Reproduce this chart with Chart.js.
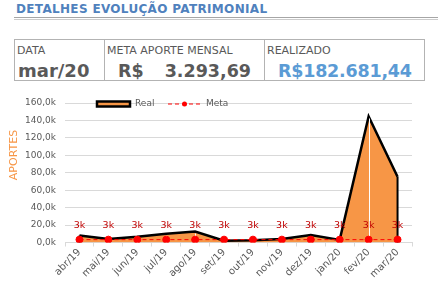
<!DOCTYPE html>
<html>
<head>
<meta charset="utf-8">
<script src="https://cdn.jsdelivr.net/npm/chart.js@4/dist/chart.umd.min.js"></script>
<style>
  body { margin: 0; background: #fff; font-family: 'DejaVu Sans', Verdana, sans-serif; }
  #page { position: relative; width: 438px; height: 284px; overflow: hidden; }
  .abs { position: absolute; white-space: nowrap; line-height: 1; }
  .hdr { font-size: 11px; color: #595959; top: 45px; }
  .val { font-size: 17.5px; font-weight: bold; color: #595959; top: 62.5px; }
  #chart { position: absolute; left: 0; top: 88px; }
</style>
</head>
<body>
<div id="page">
  <div id="title" class="abs" style="left:16px; top:2.5px; font-size:12px; font-weight:bold; color:#4f81bd;">DETALHES EVOLUÇÃO PATRIMONIAL</div>
  <div class="abs" style="left:14px; top:17px; width:424px; height:1px; background:#a6a6a6;"></div>
  <div class="abs" style="left:14px; top:19px; width:424px; height:1px; background:#cccccc;"></div>

  <div class="abs" style="left:14px; top:39px; width:409px; height:40px; border:1px solid #b3b3b3;"></div>
  <div class="abs" style="left:104px; top:39px; width:1px; height:42px; background:#b3b3b3;"></div>
  <div class="abs" style="left:264px; top:39px; width:1px; height:42px; background:#b3b3b3;"></div>

  <div class="abs hdr" style="left:17px;">DATA</div>
  <div class="abs hdr" style="left:107px;">META APORTE MENSAL</div>
  <div class="abs hdr" style="left:267px;">REALIZADO</div>

  <div class="abs val" style="left:18px; font-size:18px; top:62px;">mar/20</div>
  <div class="abs val" style="left:118px;">R$</div>
  <div class="abs val" style="right:187px;">3.293,69</div>
  <div id="realizado" class="abs val" style="left:278px; color:#5b9bd5;">R$182.681,44</div>

  <canvas id="chart" width="438" height="196"></canvas>
</div>
<script>
const months = ['abr/19', 'mai/19', 'jun/19', 'jul/19', 'ago/19', 'set/19', 'out/19', 'nov/19', 'dez/19', 'jan/20', 'fev/20', 'mar/20'];
const realValues = [8000, 4000, 6500, 10000, 12500, 2000, 2500, 4000, 8500, 3000, 144500, 75500];
const metaValues = [3293.69, 3293.69, 3293.69, 3293.69, 3293.69, 3293.69, 3293.69, 3293.69, 3293.69, 3293.69, 3293.69, 3293.69];
const yTicks = [0, 20000, 40000, 60000, 80000, 100000, 120000, 140000, 160000];

const textGray = '#595959';
const orange = '#f79646';

function fmtK(v) {
    return (v / 1000).toFixed(1).replace('.', ',') + 'k';
}

// stretch / squeeze a text element to the width seen in the picture
function fitWidth(id, target) {
    const el = document.getElementById(id);
    const w = el.getBoundingClientRect().width;
    const extra = (target - w) / Math.max(1, el.textContent.length - 1);
    el.style.letterSpacing = extra.toFixed(2) + 'px';
}
fitWidth('title', 251);
fitWidth('realizado', 134);

// drop lines, area edges, data labels, legend and axis title
const extras = {
    id: 'extras',
    afterDatasetDraw(chart, args) {
        if (args.index !== 1) return;
        const ctx = chart.ctx;
        const base = chart.scales.y.getPixelForValue(0);
        const pts = args.meta.data;
        ctx.save();
        ctx.strokeStyle = '#ffffff';
        ctx.lineWidth = 1;
        pts.forEach((p, i) => {
            if (i === 0 || i === pts.length - 1) return;
            if (base - p.y < 4) return;
            ctx.beginPath();
            ctx.moveTo(Math.round(p.x) + 0.5, p.y + 2);
            ctx.lineTo(Math.round(p.x) + 0.5, base);
            ctx.stroke();
        });
        ctx.strokeStyle = '#000';
        ctx.lineWidth = 2;
        [pts[0], pts[pts.length - 1]].forEach(p => {
            ctx.beginPath();
            ctx.moveTo(p.x, p.y);
            ctx.lineTo(p.x, base);
            ctx.stroke();
        });
        ctx.restore();
    },
    afterDraw(chart) {
        const ctx = chart.ctx;
        ctx.save();
        // data labels on meta
        ctx.font = '9.5px "DejaVu Sans"';
        ctx.fillStyle = '#c00000';
        ctx.textAlign = 'center';
        ctx.textBaseline = 'middle';
        chart.getDatasetMeta(0).data.forEach((p, i) => {
            ctx.fillText(Math.round(metaValues[i] / 1000) + 'k', p.x, p.y - 14);
        });

        // legend
        const ly = 16;
        ctx.fillStyle = orange;
        ctx.strokeStyle = '#000';
        ctx.lineWidth = 2.5;
        ctx.beginPath();
        ctx.rect(97, ly - 2.5, 33, 5);
        ctx.fill();
        ctx.stroke();
        ctx.font = '9px "DejaVu Sans"';
        ctx.fillStyle = textGray;
        ctx.textAlign = 'left';
        ctx.fillText('Real', 135, ly);
        ctx.strokeStyle = '#ff0000';
        ctx.lineWidth = 1;
        ctx.setLineDash([4, 3]);
        ctx.beginPath();
        ctx.moveTo(168, ly);
        ctx.lineTo(201, ly);
        ctx.stroke();
        ctx.setLineDash([]);
        ctx.fillStyle = '#ff0000';
        ctx.beginPath();
        ctx.arc(184.5, ly, 2.5, 0, Math.PI * 2);
        ctx.fill();
        ctx.fillStyle = textGray;
        ctx.fillText('Meta', 206, ly);

        // y axis title
        ctx.translate(14.5, 67);
        ctx.rotate(-Math.PI / 2);
        ctx.font = '11px "DejaVu Sans"';
        ctx.fillStyle = orange;
        ctx.textAlign = 'center';
        ctx.fillText('APORTES', 0, 0);
        ctx.restore();
    }
};

new Chart(document.getElementById('chart'), {
    type: 'line',
    data: {
        labels: months,
        datasets: [
            {
                label: 'Meta',
                data: metaValues,
                borderColor: '#ff0000',
                borderWidth: 1,
                borderDash: [4, 3],
                pointRadius: 3.5,
                pointBackgroundColor: '#ff0000',
                pointBorderColor: '#ff0000',
                fill: false
            },
            {
                label: 'Real',
                data: realValues,
                borderColor: '#000000',
                borderWidth: 2.5,
                backgroundColor: orange,
                fill: 'origin',
                pointRadius: 0,
                tension: 0
            }
        ]
    },
    options: {
        responsive: false,
        animation: false,
        layout: { padding: { top: 15, right: 26, left: 0, bottom: 0 } },
        plugins: {
            legend: { display: false },
            tooltip: { enabled: false }
        },
        scales: {
            x: {
                offset: true,
                grid: { display: true, drawOnChartArea: false, offset: true, tickLength: 4, color: '#d9d9d9' },
                border: { color: '#d9d9d9' },
                ticks: {
                    minRotation: 45,
                    maxRotation: 45,
                    color: textGray,
                    font: { family: 'DejaVu Sans', size: 10 },
                    padding: 0
                },
                afterFit(axis) { axis.height = 41.5; }
            },
            y: {
                min: 0,
                max: 160000,
                afterBuildTicks(axis) { axis.ticks = yTicks.map(v => ({ value: v })); },
                ticks: {
                    color: textGray,
                    font: { family: 'DejaVu Sans', size: 9 },
                    padding: 9,
                    callback: v => fmtK(v)
                },
                grid: { color: '#d9d9d9', drawTicks: false },
                border: { display: false },
                afterFit(axis) { axis.width = 65; }
            }
        }
    },
    plugins: [extras]
});
</script>
</body>
</html>
